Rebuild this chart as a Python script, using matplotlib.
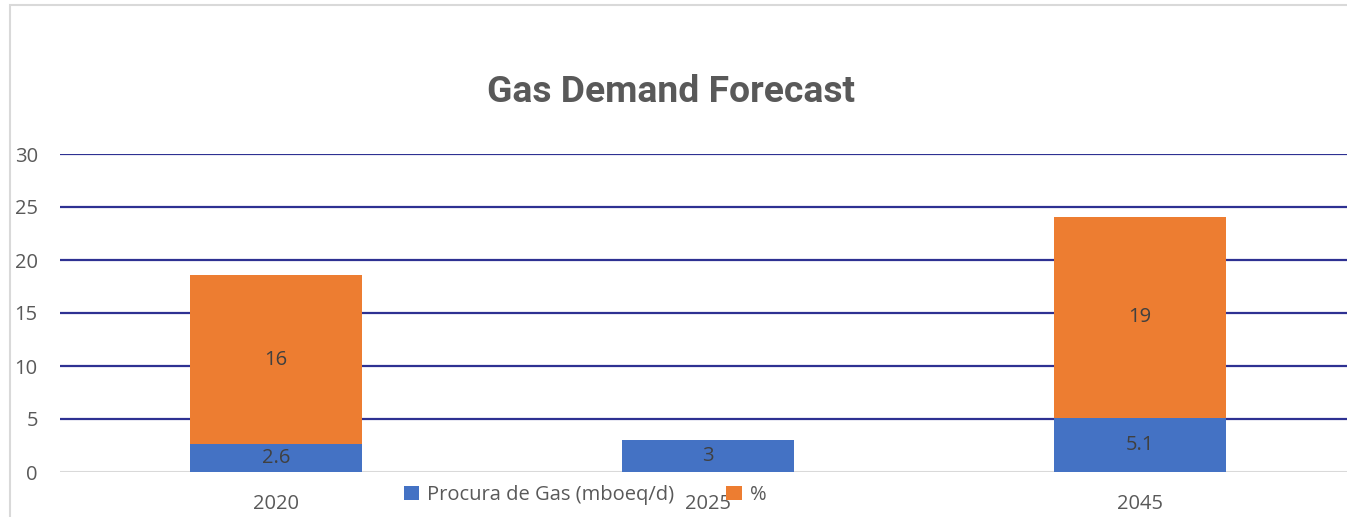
import matplotlib.pyplot as plt
from matplotlib.patches import Rectangle
import numpy as np

years = ["2020", "2025", "2045"]
procura = [2.6, 3, 5.1]
percent = [16, 0, 19]
yticks = [0, 5, 10, 15, 20, 25, 30]

blue = "#4472C4"
orange = "#ED7D31"
grey = "#595959"

plt.rcParams['font.family'] = ['Open Sans', 'DejaVu Sans']

fig = plt.figure(figsize=(13.47, 5.17), dpi=100)
ax = fig.add_axes([60 / 1347, 1 - 472 / 517, 1296 / 1347, 318 / 517])

# outer chart frame (cropped at right/bottom)
fig.patches.append(Rectangle((10 / 1347, -0.1), 1.2, 1 - 5 / 517 + 0.1,
                             transform=fig.transFigure, fill=False,
                             edgecolor="#D9D9D9", lw=1.5))

x = np.arange(len(years))
b1 = ax.bar(x, procura, width=0.4, color=blue, zorder=3, label="Procura de Gas (mboeq/d)")
b2 = ax.bar(x, percent, width=0.4, bottom=procura, color=orange, zorder=3, label="%")

for i in range(len(years)):
    ax.text(x[i], procura[i] / 2, "{:g}".format(procura[i]), ha="center", va="center",
            fontsize=14.5, color="#404040", zorder=4)
    if percent[i]:
        ax.text(x[i], procura[i] + percent[i] / 2, "{:g}".format(percent[i]), ha="center",
                va="center", fontsize=14.5, color="#404040", zorder=4)

ax.set_xlim(-0.5, 2.5)
ax.set_ylim(0, 30)
ax.set_yticks(yticks)
for t in yticks[1:]:
    ax.axhline(t, color="#2E3192", lw=1.6, zorder=1)
ax.axhline(0, color="#D9D9D9", lw=1.5, zorder=2)

ax.set_xticks(x)
ax.set_xticklabels(years)
ax.tick_params(axis="both", length=0, labelsize=14.5, colors=grey)
ax.tick_params(axis="x", pad=16)
ax.tick_params(axis="y", pad=16)
for s in ax.spines.values():
    s.set_visible(False)

fig.text(671 / 1347, 1 - 92 / 517, "Gas Demand Forecast", ha="center", va="center",
         fontsize=26.8, fontweight="bold", color=grey, family=["Roboto", "DejaVu Sans"])

leg = fig.legend(handles=[b1, b2], loc="center", bbox_to_anchor=(585 / 1347, 1 - 495 / 517),
                 ncol=2, frameon=False, fontsize=14.5, handlelength=0.75, handleheight=0.75,
                 columnspacing=2.6, handletextpad=0.4, labelcolor=grey)

fig.savefig("out.png", dpi=100)
